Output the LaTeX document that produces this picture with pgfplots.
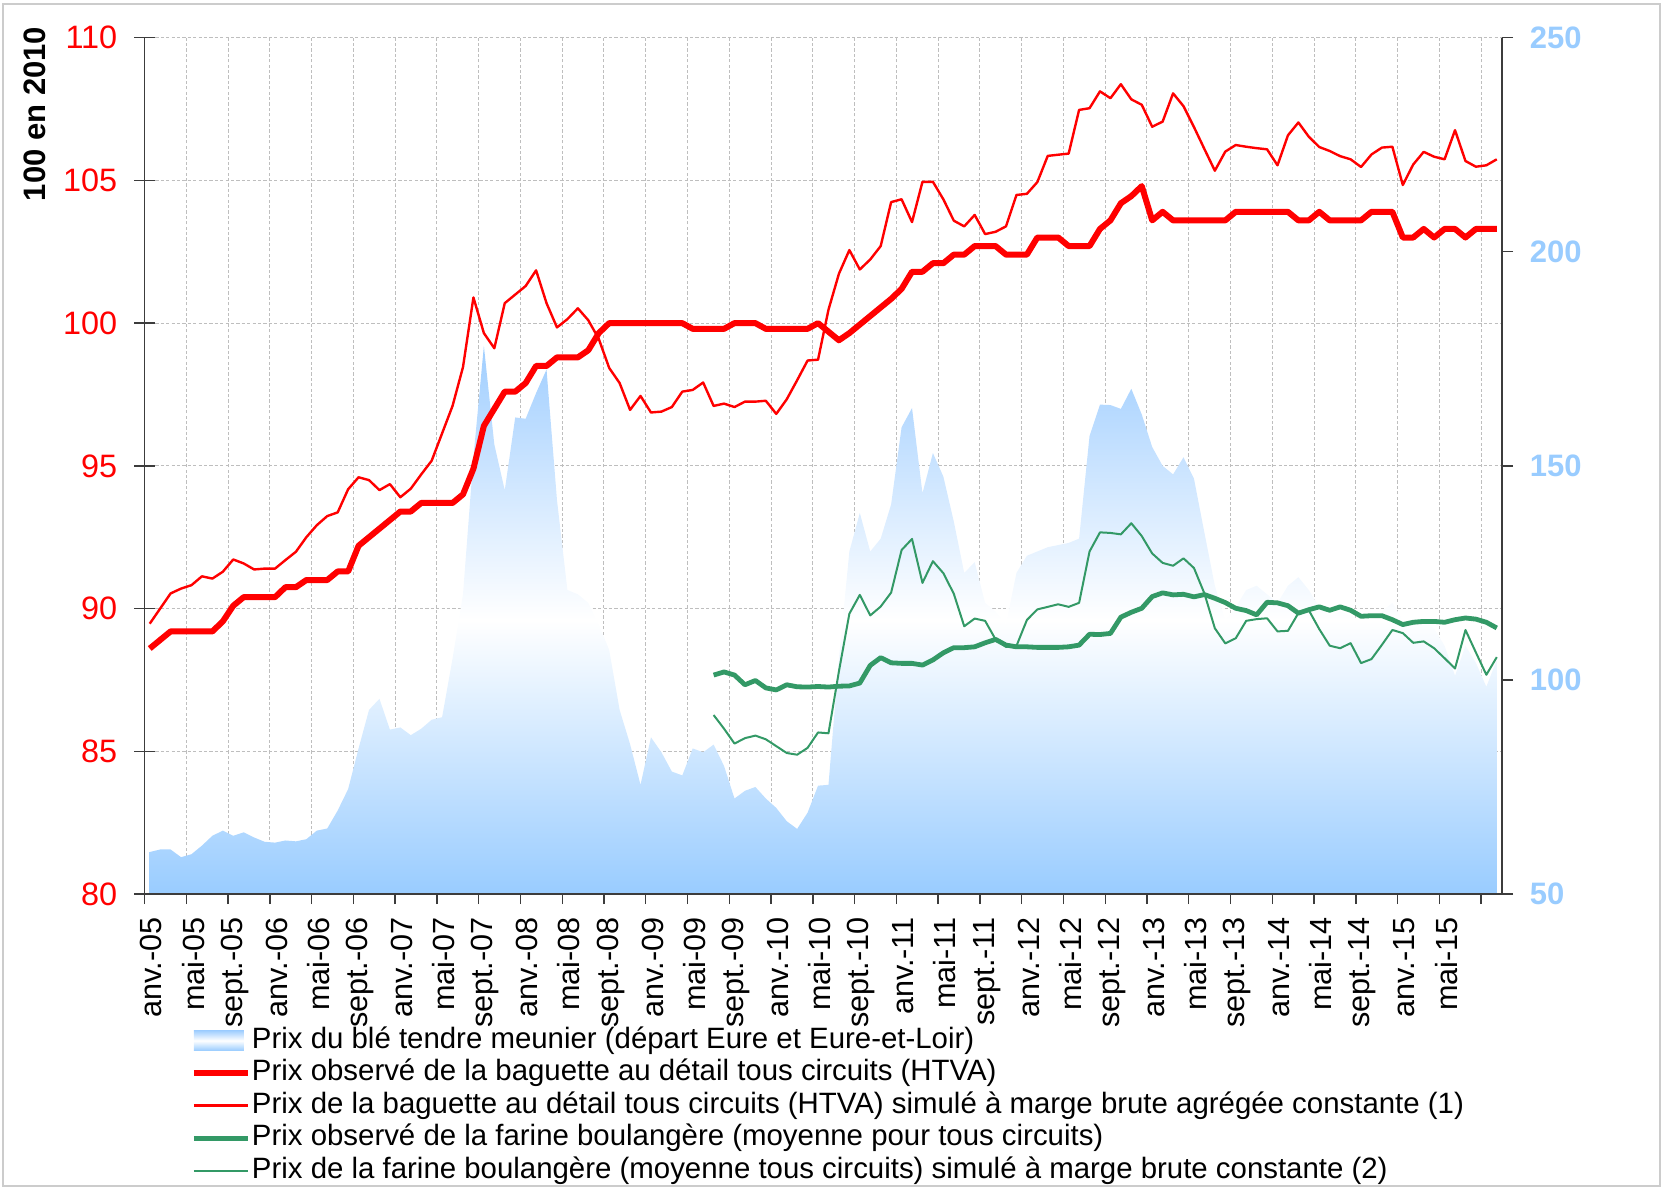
\documentclass[border=0pt]{standalone}
\usepackage{fontspec}
\setmainfont{Liberation Sans}
\usepackage{pgfplots}
\pgfplotsset{compat=1.18}
\usepackage{pgfplotstable}
\definecolor{bred}{RGB}{255,0,0}
\definecolor{bgreen}{RGB}{51,153,102}
\definecolor{bblue}{RGB}{153,204,255}
\definecolor{bbluetop}{RGB}{160,206,255}
\definecolor{gridgray}{RGB}{190,190,190}
\definecolor{axgray}{RGB}{60,60,60}

\pgfplotstableread{
i w
0 59.8
1 60.4
2 60.4
3 58.6
4 59.3
5 61.3
6 63.6
7 64.8
8 63.6
9 64.4
10 63.2
11 62.2
12 62.0
13 62.5
14 62.3
15 62.8
16 64.8
17 65.3
18 69.5
19 74.5
20 84.0
21 93.0
22 95.6
23 88.4
24 88.9
25 87.1
26 88.6
27 90.7
28 91.3
29 105
30 120
31 152
32 178
33 155
34 144.3
35 161.3
36 161
37 167
38 172.5
39 142
40 121
41 120
42 118
43 113
44 107
45 93
46 85
47 75.5
48 86.6
49 83.1
50 78.6
51 77.7
52 84.0
53 83.1
54 84.9
55 79.9
56 72.3
57 74.1
58 75.0
59 72.3
60 70.1
61 67.0
62 65.2
63 69.0
64 75.3
65 75.5
66 105
67 130
68 139
69 130
70 133
71 141
72 159
73 163.5
74 143.6
75 153
76 147.5
77 137
78 125
79 127.5
80 118
81 116
82 113
83 125
84 129
85 130
86 131
87 131.5
88 132
89 133
90 157
91 164.3
92 164.2
93 163.3
94 168
95 162
96 154.4
97 150
98 148
99 152
100 147
101 134.4
102 122
103 114
104 117
105 121
106 122
107 120
108 118
109 122
110 124
111 121
112 117
113 115
114 116
115 115
116 114
117 115
118 116
119 118
120 114
121 113
122 114
123 112
124 108
125 101
126 108
127 104
128 98.4
129 104.7
}\wheat

\pgfplotstableread{
i v
0 88.6
1 88.9
2 89.2
3 89.2
4 89.2
5 89.2
6 89.2
7 89.55
8 90.1
9 90.4
10 90.4
11 90.4
12 90.4
13 90.75
14 90.75
15 91.0
16 91.0
17 91.0
18 91.3
19 91.3
20 92.2
21 92.5
22 92.8
23 93.1
24 93.4
25 93.4
26 93.7
27 93.7
28 93.7
29 93.7
30 94.0
31 94.9
32 96.4
33 97.0
34 97.6
35 97.6
36 97.9
37 98.5
38 98.5
39 98.8
40 98.8
41 98.8
42 99.05
43 99.65
44 100.0
45 100.0
46 100.0
47 100.0
48 100.0
49 100.0
50 100.0
51 100.0
52 99.8
53 99.8
54 99.8
55 99.8
56 100.0
57 100.0
58 100.0
59 99.8
60 99.8
61 99.8
62 99.8
63 99.8
64 100.0
65 99.7
66 99.4
67 99.65
68 99.95
69 100.25
70 100.55
71 100.85
72 101.2
73 101.8
74 101.8
75 102.1
76 102.1
77 102.4
78 102.4
79 102.7
80 102.7
81 102.7
82 102.4
83 102.4
84 102.4
85 103.0
86 103.0
87 103.0
88 102.7
89 102.7
90 102.7
91 103.3
92 103.6
93 104.2
94 104.45
95 104.8
96 103.6
97 103.9
98 103.6
99 103.6
100 103.6
101 103.6
102 103.6
103 103.6
104 103.9
105 103.9
106 103.9
107 103.9
108 103.9
109 103.9
110 103.6
111 103.6
112 103.9
113 103.6
114 103.6
115 103.6
116 103.6
117 103.9
118 103.9
119 103.9
120 103.0
121 103.0
122 103.3
123 103.0
124 103.3
125 103.3
126 103.0
127 103.3
128 103.3
129 103.3
}\redobs

\pgfplotstableread{
i v
0 89.47
1 90.0
2 90.53
3 90.7
4 90.82
5 91.13
6 91.05
7 91.29
8 91.72
9 91.58
10 91.37
11 91.4
12 91.4
13 91.7
14 91.99
15 92.5
16 92.92
17 93.24
18 93.37
19 94.18
20 94.6
21 94.5
22 94.15
23 94.36
24 93.9
25 94.2
26 94.7
27 95.18
28 96.14
29 97.1
30 98.46
31 100.9
32 99.65
33 99.12
34 100.7
35 101.0
36 101.3
37 101.85
38 100.7
39 99.85
40 100.14
41 100.52
42 100.1
43 99.45
44 98.43
45 97.9
46 96.96
47 97.45
48 96.87
49 96.9
50 97.06
51 97.6
52 97.66
53 97.92
54 97.1
55 97.18
56 97.06
57 97.25
58 97.25
59 97.28
60 96.82
61 97.33
62 98.0
63 98.69
64 98.72
65 100.47
66 101.73
67 102.56
68 101.88
69 102.23
70 102.7
71 104.24
72 104.34
73 103.54
74 104.95
75 104.95
76 104.34
77 103.59
78 103.39
79 103.79
80 103.12
81 103.2
82 103.39
83 104.49
84 104.53
85 104.94
86 105.86
87 105.9
88 105.94
89 107.47
90 107.53
91 108.12
92 107.88
93 108.37
94 107.84
95 107.65
96 106.88
97 107.06
98 108.05
99 107.6
100 106.87
101 106.1
102 105.34
103 106.01
104 106.24
105 106.18
106 106.13
107 106.09
108 105.53
109 106.58
110 107.03
111 106.53
112 106.17
113 106.03
114 105.85
115 105.74
116 105.47
117 105.91
118 106.15
119 106.18
120 104.84
121 105.56
122 106.0
123 105.83
124 105.74
125 106.76
126 105.68
127 105.48
128 105.53
129 105.74
}\redsim

\pgfplotstableread{
i v
54 87.67
55 87.78
56 87.67
57 87.33
58 87.48
59 87.22
60 87.15
61 87.33
62 87.26
63 87.25
64 87.27
65 87.25
66 87.28
67 87.29
68 87.39
69 88.01
70 88.28
71 88.1
72 88.08
73 88.08
74 88.02
75 88.2
76 88.45
77 88.63
78 88.63
79 88.66
80 88.8
81 88.92
82 88.72
83 88.66
84 88.66
85 88.64
86 88.64
87 88.64
88 88.66
89 88.72
90 89.1
91 89.09
92 89.13
93 89.7
94 89.87
95 90.01
96 90.42
97 90.55
98 90.48
99 90.5
100 90.41
101 90.49
102 90.36
103 90.21
104 90.01
105 89.93
106 89.78
107 90.22
108 90.2
109 90.1
110 89.84
111 89.96
112 90.06
113 89.94
114 90.06
115 89.94
116 89.73
117 89.75
118 89.75
119 89.61
120 89.44
121 89.52
122 89.55
123 89.55
124 89.52
125 89.61
126 89.67
127 89.63
128 89.52
129 89.32
}\greenobs

\pgfplotstableread{
i v
54 86.27
55 85.79
56 85.27
57 85.46
58 85.55
59 85.42
60 85.18
61 84.94
62 84.88
63 85.12
64 85.66
65 85.63
66 87.8
67 89.82
68 90.48
69 89.76
70 90.07
71 90.56
72 92.05
73 92.44
74 90.9
75 91.66
76 91.24
77 90.52
78 89.38
79 89.65
80 89.57
81 88.92
82 88.66
83 88.69
84 89.6
85 89.97
86 90.06
87 90.15
88 90.06
89 90.2
90 92.0
91 92.67
92 92.65
93 92.6
94 92.99
95 92.54
96 91.93
97 91.6
98 91.5
99 91.76
100 91.42
101 90.53
102 89.31
103 88.78
104 88.96
105 89.57
106 89.63
107 89.66
108 89.2
109 89.22
110 89.84
111 89.94
112 89.28
113 88.7
114 88.61
115 88.79
116 88.09
117 88.23
118 88.73
119 89.25
120 89.14
121 88.8
122 88.85
123 88.61
124 88.26
125 87.9
126 89.25
127 88.46
128 87.68
129 88.3
}\greensim

\pgfplotsset{
  base/.style={scale only axis, width=678.75pt, height=428.15pt,
    at={(72.25pt,147.5pt)}, anchor=south west,
    xmin=-0.5, xmax=129.5,
    /pgf/number format/assume math mode=true},
}

\begin{document}
\begin{tikzpicture}
\path[use as bounding box] (0,0) rectangle (831.5pt,594.5pt);
\draw[gray!40, line width=0.6pt] (1.5pt,1.5pt) rectangle (830pt,592.5pt);

% grid layer
\begin{axis}[base, ymin=80, ymax=110,
  xtick={-0.5,3.5,...,127.5}, ytick={80,85,...,110},
  xticklabels={}, yticklabels={},
  xmajorgrids, ymajorgrids,
  grid style={gridgray, line width=0.5pt, dash pattern=on 1.6pt off 1.1pt},
  axis line style={draw=none}, tick style={draw=none}]
\addplot[draw=none] coordinates {(0,90)};
\end{axis}

% wheat area (right scale)
\begin{axis}[base, ymin=50, ymax=250, hide axis]
\addplot[draw=none, top color=bbluetop, bottom color=bblue, middle color=white]
  table[x=i,y=w]{\wheat} \closedcycle;
\end{axis}

% lines and x axis
\begin{axis}[base, ymin=80, ymax=110,
  axis x line*=bottom, axis y line*=left,
  axis line style={axgray, line width=0.7pt},
  ytick=\empty,
  xtick={-0.5,3.5,...,127.5},
  xticklabels={anv.-05,mai-05,sept.-05,anv.-06,mai-06,sept.-06,anv.-07,mai-07,sept.-07,anv.-08,mai-08,sept.-08,anv.-09,mai-09,sept.-09,anv.-10,mai-10,sept.-10,anv.-11,mai-11,sept.-11,anv.-12,mai-12,sept.-12,anv.-13,mai-13,sept.-13,anv.-14,mai-14,sept.-14,anv.-15,mai-15,{}},
  xticklabel style={font=\fontsize{15.3}{16}\selectfont, xshift=3.4pt, rotate=90, anchor=east, inner sep=0pt},
  xticklabel shift=6.5pt,
  tick align=outside, major tick length=5pt,
  tick style={axgray, line width=0.7pt},
  legend style={at={(axis description cs:0.0341,-0.1543)}, anchor=north west,
    draw=none, fill=none, inner sep=0pt, outer sep=0pt,
    font=\fontsize{14.7}{16}\selectfont, row sep=1.75pt,
    nodes={inner xsep=0.6pt, inner ysep=0pt, text height=11pt, text depth=3.5pt}},
  legend cell align=left,
  legend image code/.code={\draw[#1] (0pt,0pt) -- (27pt,0pt);},
]
\addlegendimage{legend image code/.code={\fill[draw=none, top color=bbluetop,bottom color=bblue,middle color=white] (0pt,-5pt) rectangle (25pt,5pt);}}
\addlegendentry{Prix du blé tendre meunier (départ Eure et Eure-et-Loir)}
\addplot[bred, line width=3pt, line join=round] table[x=i,y=v]{\redobs};
\addlegendentry{Prix observé de la baguette au détail tous circuits (HTVA)}
\addplot[bred, line width=1.2pt, line join=round] table[x=i,y=v]{\redsim};
\addlegendentry{Prix de la baguette au détail tous circuits (HTVA) simulé à marge brute agrégée constante (1)}
\addplot[bgreen, line width=2.4pt, line join=round] table[x=i,y=v]{\greenobs};
\addlegendentry{Prix observé de la farine boulangère (moyenne pour tous circuits)}
\addplot[bgreen, line width=1pt, line join=round] table[x=i,y=v]{\greensim};
\addlegendentry{Prix de la farine boulangère (moyenne tous circuits) simulé à marge brute constante (2)}
\end{axis}

% left y axis ticks
\begin{axis}[base, ymin=80, ymax=110,
  axis y line*=left, axis x line=none, xtick=\empty,
  ytick={80,85,...,110},
  tick align=center, major tick length=10pt,
  axis line style={axgray, line width=0.7pt},
  tick style={axgray, line width=0.7pt},
  yticklabel style={font=\fontsize{16.2}{17}\selectfont, text=bred, anchor=east, inner sep=0pt},
  yticklabel shift=8.45pt]
\addplot[draw=none] coordinates {(0,90)};
\end{axis}

% right y axis
\begin{axis}[base, ymin=50, ymax=250,
  axis y line*=right, axis x line=none, xtick=\empty,
  ytick={50,100,...,250},
  tick align=outside, major tick length=5.5pt,
  axis line style={axgray, line width=0.7pt},
  tick style={axgray, line width=0.7pt},
  yticklabel style={font=\bfseries\fontsize{15.5}{16}\selectfont, text=bblue, anchor=west, inner sep=0pt},
  yticklabel shift=8.25pt]
\addplot[draw=none] coordinates {(0,100)};
\end{axis}

\node[rotate=90, font=\bfseries\fontsize{15.5}{16}\selectfont] at (17.5pt,537.5pt) {100 en 2010};
\end{tikzpicture}
\end{document}
